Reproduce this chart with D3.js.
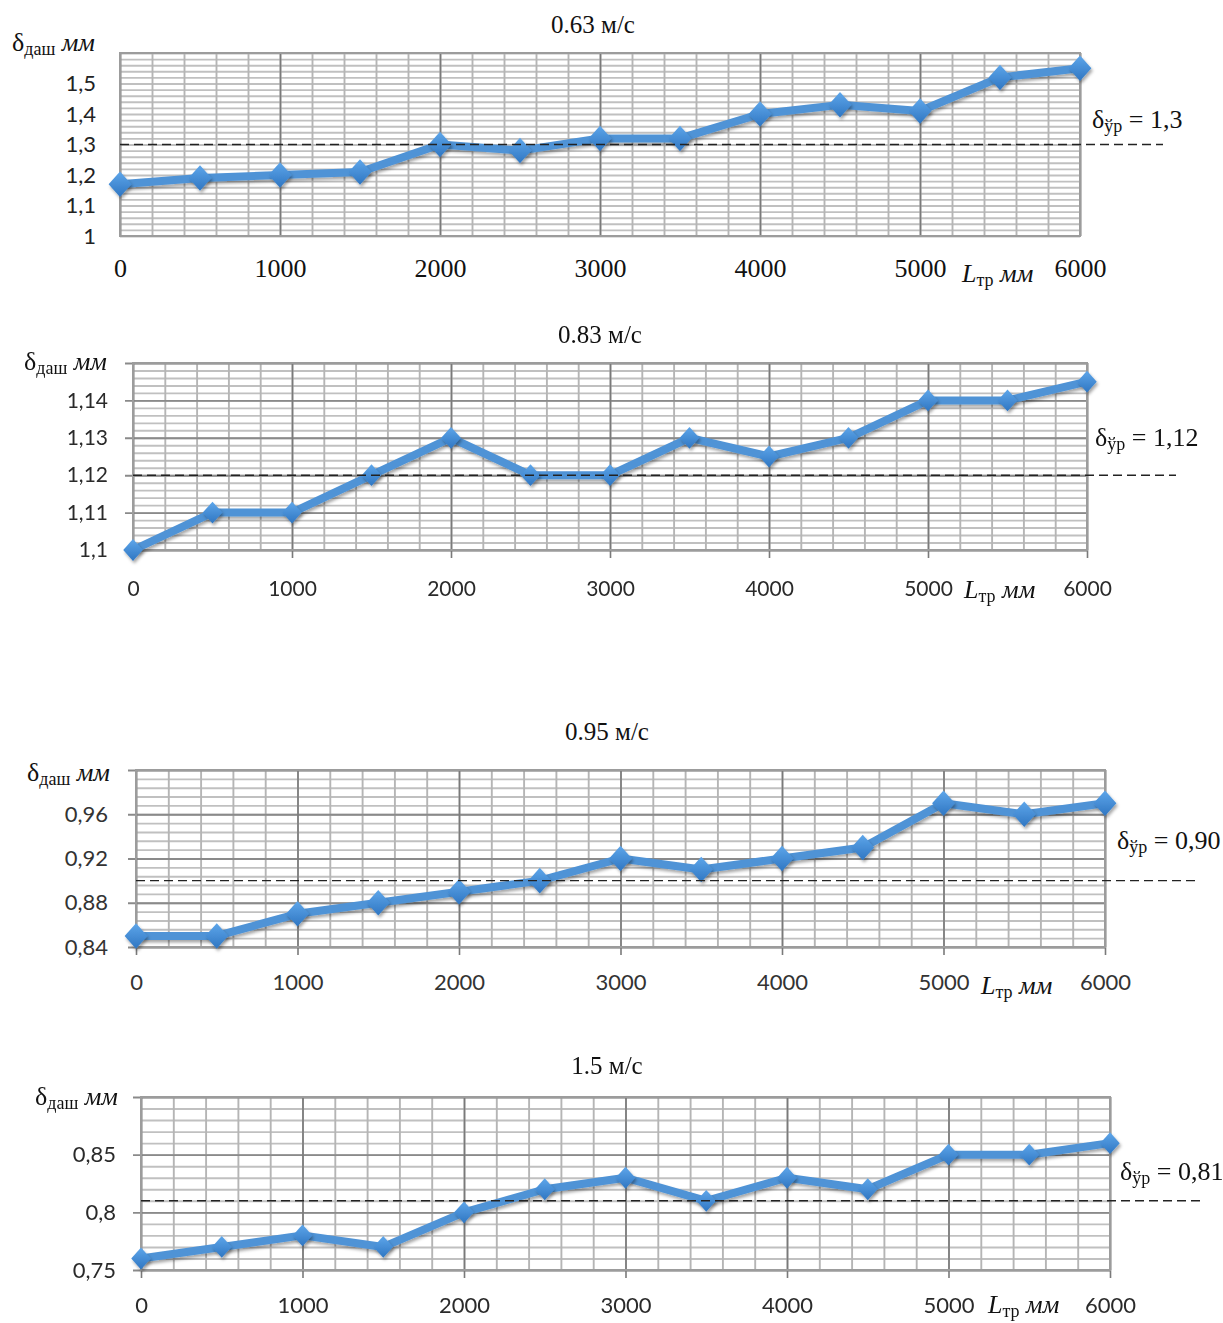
<!DOCTYPE html>
<html>
<head>
<meta charset="utf-8">
<script src="https://cdn.jsdelivr.net/npm/d3@7"></script>
<style>
  body { margin: 0; background: #fff; }
  svg { display: block; }
</style>
</head>
<body>
<svg id="fig" width="1223" height="1323"></svg>
<script>
// Friction path length, mm
const lengths = [0, 500, 1000, 1500, 2000, 2500, 3000, 3500, 4000, 4500, 5000, 5500, 6000];
const xTickValues = [0, 1000, 2000, 3000, 4000, 5000, 6000];
const xTickLabels = ["0", "1000", "2000", "3000", "4000", "5000", "6000"];

// Sliding speeds (one panel each)
const speedTitles = ["0.63 м/с", "0.83 м/с", "0.95 м/с", "1.5 м/с"];

// Measured wear depth δ, mm
const wear063 = [1.17, 1.19, 1.20, 1.21, 1.30, 1.28, 1.32, 1.32, 1.40, 1.43, 1.41, 1.52, 1.55];
const wear083 = [1.10, 1.11, 1.11, 1.12, 1.13, 1.12, 1.12, 1.13, 1.125, 1.13, 1.14, 1.14, 1.145];
const wear095 = [0.85, 0.85, 0.87, 0.88, 0.89, 0.90, 0.92, 0.91, 0.92, 0.93, 0.97, 0.96, 0.97];
const wear150 = [0.76, 0.77, 0.78, 0.77, 0.80, 0.82, 0.83, 0.81, 0.83, 0.82, 0.85, 0.85, 0.86];

// Mean levels
const meanLevels = [1.3, 1.12, 0.90, 0.81];
const meanLabels = ["1,3", "1,12", "0,90", "0,81"];

// Y tick values and labels per panel
const yTicks063 = [1, 1.1, 1.2, 1.3, 1.4, 1.5];
const yLabels063 = ["1", "1,1", "1,2", "1,3", "1,4", "1,5"];
const yTicks083 = [1.1, 1.11, 1.12, 1.13, 1.14];
const yLabels083 = ["1,1", "1,11", "1,12", "1,13", "1,14"];
const yTicks095 = [0.84, 0.88, 0.92, 0.96];
const yLabels095 = ["0,84", "0,88", "0,92", "0,96"];
const yTicks150 = [0.75, 0.8, 0.85];
const yLabels150 = ["0,75", "0,8", "0,85"];

const svg = d3.select("#fig");
const defs = svg.append("defs");

// marker fill and shadows
const grad = defs.append("linearGradient").attr("id", "mk").attr("x1", 0).attr("y1", 0).attr("x2", 0).attr("y2", 1);
grad.append("stop").attr("offset", "0%").attr("stop-color", "#5ea6ea");
grad.append("stop").attr("offset", "100%").attr("stop-color", "#2f76c2");
defs.append("filter").attr("id", "shadow").attr("x", "-50%").attr("y", "-50%").attr("width", "200%").attr("height", "200%")
  .append("feDropShadow").attr("dx", 1.5).attr("dy", 2.5).attr("stdDeviation", 1.8)
  .attr("flood-color", "#000").attr("flood-opacity", 0.35);
defs.append("filter").attr("id", "soft").attr("x", "-5%").attr("y", "-5%").attr("width", "110%").attr("height", "110%")
  .append("feGaussianBlur").attr("stdDeviation", 0.7);

// rhombus marker
const rhombus = {
  draw(ctx, size) {
    const w = Math.sqrt(size) * 0.5, h = w * 1.12;
    ctx.moveTo(0, -h); ctx.lineTo(w, 0); ctx.lineTo(0, h); ctx.lineTo(-w, 0); ctx.closePath();
  }
};

const SERIF = "'Liberation Serif', 'Times New Roman', serif";
const SANS = "Lato, 'Open Sans', sans-serif";

const panels = [
  { title: speedTitles[0], values: wear063, level: meanLevels[0], levelLabel: meanLabels[0],
    yTicks: yTicks063, yLabels: yLabels063, yDomain: [1, 1.6], yMinor: 0.02, yMajorLines: false,
    xr: [120, 1080], yr: [236, 53], outerTicks: false, blur: false, serifX: true,
    titleXY: [593, 33], yTitleXY: [12, 51], yLabelRight: 96, xLabelBase: 277,
    xTitleXY: [962, 282], levelXY: [1092, 128], dashEnd: 1163,
    markerSize: 520, lineWidth: 8, tickColor: "#222", tickSize: 22 },
  { title: speedTitles[1], values: wear083, level: meanLevels[1], levelLabel: meanLabels[1],
    yTicks: yTicks083, yLabels: yLabels083, yDomain: [1.1, 1.15], yMinor: 0.002, yMajorLines: true,
    xr: [133, 1087], yr: [550, 363], outerTicks: true, blur: true, serifX: false,
    titleXY: [600, 343], yTitleXY: [24, 370], yLabelRight: 108, xLabelBase: 596,
    xTitleXY: [964, 598], levelXY: [1095, 446], dashEnd: 1176,
    markerSize: 380, lineWidth: 8, tickColor: "#2a2a2a", tickSize: 21 },
  { title: speedTitles[2], values: wear095, level: meanLevels[2], levelLabel: meanLabels[2],
    yTicks: yTicks095, yLabels: yLabels095, yDomain: [0.84, 1.0], yMinor: 0.008, yMajorLines: true,
    xr: [136, 1105], yr: [947, 770], outerTicks: true, blur: false, serifX: false,
    titleXY: [607, 740], yTitleXY: [27, 781], yLabelRight: 108, xLabelBase: 990,
    xTitleXY: [981, 994], levelXY: [1117, 849], dashEnd: 1200,
    markerSize: 520, lineWidth: 8, tickColor: "#333", tickSize: 22 },
  { title: speedTitles[3], values: wear150, level: meanLevels[3], levelLabel: meanLabels[3],
    yTicks: yTicks150, yLabels: yLabels150, yDomain: [0.75, 0.9], yMinor: 0.01, yMajorLines: true,
    xr: [141, 1110], yr: [1270, 1097], outerTicks: true, blur: true, serifX: false,
    titleXY: [607, 1074], yTitleXY: [35, 1105], yLabelRight: 116, xLabelBase: 1313,
    xTitleXY: [988, 1313], levelXY: [1120, 1180], dashEnd: 1205,
    markerSize: 380, lineWidth: 8, tickColor: "#2a2a2a", tickSize: 22 }
];

function gridLines(g, axis, color, width) {
  g.call(axis).call(a => a.select(".domain").remove());
  g.selectAll(".tick line").attr("stroke", color).attr("stroke-width", width);
  g.selectAll(".tick text").remove();
}

panels.forEach(p => {
  const x = d3.scaleLinear().domain([0, 6000]).range(p.xr);
  const y = d3.scaleLinear().domain(p.yDomain).range(p.yr);
  const W = p.xr[1] - p.xr[0], H = p.yr[0] - p.yr[1];
  const ext = p.outerTicks ? 8 : 0;

  const root = svg.append("g");
  const plot = root.append("g").attr("filter", p.blur ? "url(#soft)" : null);

  // minor horizontal grid
  const yMinorVals = d3.range(p.yDomain[0], p.yDomain[1] + p.yMinor / 2, p.yMinor);
  gridLines(plot.append("g").attr("transform", `translate(${p.xr[0]},0)`),
    d3.axisLeft(y).tickValues(yMinorVals).tickSize(-W).tickFormat(""), "#c0c0c0", 1.9);
  // minor vertical grid
  const xMinorVals = d3.range(0, 6001, 200);
  gridLines(plot.append("g").attr("transform", `translate(0,${p.yr[0]})`),
    d3.axisBottom(x).tickValues(xMinorVals).tickSize(-H).tickFormat(""), "#b5b5b5", 1.9);
  // major horizontal grid
  if (p.yMajorLines) {
    gridLines(plot.append("g").attr("transform", `translate(${p.xr[0] - ext},0)`),
      d3.axisLeft(y).tickValues(p.yTicks.concat([p.yDomain[1]])).tickSize(-(W + ext)).tickFormat(""), "#8a8a8a", 1.9);
  }
  // major vertical grid
  gridLines(plot.append("g").attr("transform", `translate(0,${p.yr[0] + ext})`),
    d3.axisBottom(x).tickValues(xTickValues).tickSize(-(H + ext)).tickFormat(""), "#7a7a7a", 1.6);
  // frame
  plot.append("rect").attr("x", p.xr[0]).attr("y", p.yr[1]).attr("width", W).attr("height", H)
    .attr("fill", "none").attr("stroke", "#9c9c9c").attr("stroke-width", 2);

  // y tick labels
  const yl = plot.append("g").attr("transform", `translate(${p.yLabelRight},0)`)
    .call(d3.axisLeft(y).tickValues(p.yTicks).tickFormat((d, i) => p.yLabels[i]).tickSize(0).tickPadding(0));
  yl.select(".domain").remove();
  yl.selectAll("text").attr("x", 0).attr("text-anchor", "end")
    .style("font-family", SANS).style("font-size", p.tickSize + "px").attr("fill", p.tickColor);

  // x tick labels
  const xl = plot.append("g").attr("transform", `translate(0,${p.xLabelBase})`)
    .call(d3.axisBottom(x).tickValues(xTickValues).tickFormat((d, i) => xTickLabels[i]).tickSize(0).tickPadding(0));
  xl.select(".domain").remove();
  xl.selectAll("text").attr("y", 0).attr("dy", 0)
    .style("font-family", p.serifX ? SERIF : SANS)
    .style("font-size", (p.serifX ? 26 : p.tickSize) + "px")
    .attr("fill", p.serifX ? "#111" : p.tickColor);

  // wear curve
  const line = d3.line().x((d, i) => x(lengths[i])).y(d => y(d));
  plot.append("path").datum(p.values).attr("d", line)
    .attr("fill", "none").attr("stroke", "#4f93d6").attr("stroke-width", p.lineWidth)
    .attr("stroke-linejoin", "round").attr("filter", "url(#shadow)");
  plot.append("g").selectAll("path").data(p.values).join("path")
    .attr("d", d3.symbol(rhombus, p.markerSize))
    .attr("transform", (d, i) => `translate(${x(lengths[i])},${y(d)})`)
    .attr("fill", "url(#mk)").attr("filter", "url(#shadow)");

  // mean level
  root.append("line").attr("x1", p.xr[0]).attr("x2", p.dashEnd)
    .attr("y1", y(p.level)).attr("y2", y(p.level))
    .attr("stroke", "#222").attr("stroke-width", 1.4).attr("stroke-dasharray", "9,5");

  // title
  root.append("text").attr("x", p.titleXY[0]).attr("y", p.titleXY[1]).attr("text-anchor", "middle")
    .style("font-family", SERIF).style("font-size", "25px").attr("fill", "#111").text(p.title);

  // y-axis title
  const yt = root.append("text").attr("x", p.yTitleXY[0]).attr("y", p.yTitleXY[1])
    .style("font-family", SERIF).attr("fill", "#111");
  yt.append("tspan").style("font-size", "26px").text("δ");
  yt.append("tspan").style("font-size", "18px").attr("dy", 4).text("даш");
  yt.append("tspan").style("font-size", "26px").style("font-style", "italic").attr("dy", -4).text(" мм");

  // x-axis title
  const xt = root.append("text").attr("x", p.xTitleXY[0]).attr("y", p.xTitleXY[1])
    .style("font-family", SERIF).attr("fill", "#111");
  xt.append("tspan").style("font-size", "26px").style("font-style", "italic").text("L");
  xt.append("tspan").style("font-size", "18px").attr("dy", 4).text("тр");
  xt.append("tspan").style("font-size", "26px").style("font-style", "italic").attr("dy", -4).text(" мм");

  // mean level label
  const lt = root.append("text").attr("x", p.levelXY[0]).attr("y", p.levelXY[1])
    .style("font-family", SERIF).attr("fill", "#111");
  lt.append("tspan").style("font-size", "26px").text("δ");
  lt.append("tspan").style("font-size", "18px").attr("dy", 4).text("ўр");
  lt.append("tspan").style("font-size", "26px").attr("dy", -4).text(" = " + p.levelLabel);
});
</script>
</body>
</html>
